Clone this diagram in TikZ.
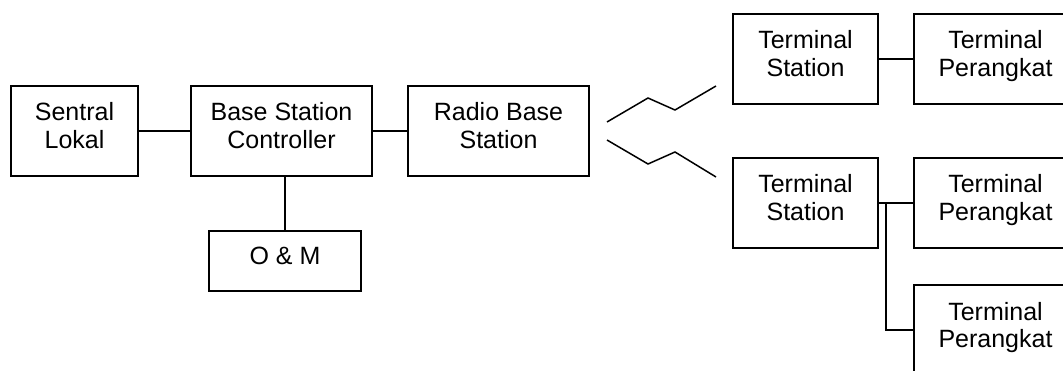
\documentclass[tikz,border=0pt]{standalone}
\usepackage{fontspec}
\setmainfont{Liberation Sans}
\usetikzlibrary{calc}
\tikzset{blok/.style={draw,line width=1.5pt,inner sep=0pt,align=center,
  font=\fontsize{25}{28}\selectfont,text height=46pt,text depth=10pt}}
\begin{document}
\begin{tikzpicture}[x=1pt,y=-1pt,line width=1.5pt]
\useasboundingbox (0,0) rectangle (1063,371);
\clip (0,0) rectangle (1063,371);
\node[blok,minimum width=127,minimum height=90] (lokal) at (74.5,131) {Sentral\\Lokal};
\node[blok,minimum width=181,minimum height=90] (bsc) at (281.5,131) {Base Station\\Controller};
\node[blok,minimum width=152,minimum height=60,text height=18pt] (om) at (285,261) {O \& M};
\node[blok,minimum width=181,minimum height=90] (rbs) at (498.5,131) {Radio Base\\Station};
\node[blok,minimum width=145,minimum height=90] (ts1) at (805.5,59) {Terminal\\Station};
\node[blok,minimum width=163,minimum height=90] (tp1) at (995.5,59) {Terminal\\Perangkat};
\node[blok,minimum width=145,minimum height=90] (ts2) at (805.5,203) {Terminal\\Station};
\node[blok,minimum width=163,minimum height=90] (tp2) at (995.5,203) {Terminal\\Perangkat};
\node[blok,minimum width=163,minimum height=90] (tp3) at (995.5,330) {Terminal\\Perangkat};
\draw (lokal) -- (bsc);
\draw (bsc) -- (rbs);
\draw (om.north) -- (om.north |- bsc.south);
\draw (ts1) -- (tp1);
\draw (ts2) -- (tp2);
\coordinate (cab) at (886,203);
\draw (cab) |- (tp3.west);
% radio link
\draw (607,122) -- (648,98) -- (675,110) -- (716,86);
\draw (607,140) -- (648,164) -- (675,152) -- (716,177);
\end{tikzpicture}
\end{document}
